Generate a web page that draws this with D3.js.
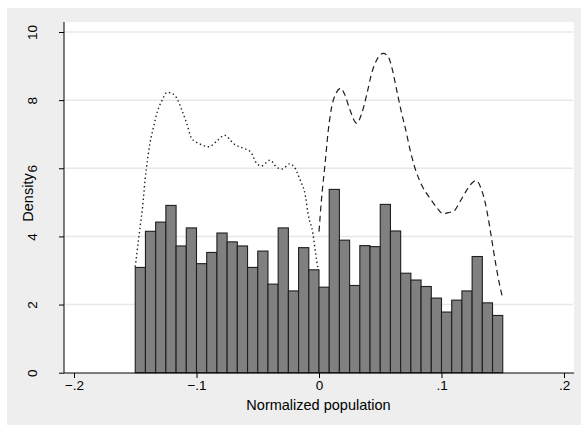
<!DOCTYPE html>
<html lang="en">
<head>
  <meta charset="UTF-8">
  <script src="https://cdn.jsdelivr.net/npm/d3@7"></script>
  <title>Histogram</title>
  <style>
    body { margin: 0; background: #fff; }
    svg { display: block; font-family: "Liberation Sans", Arial, sans-serif; }
  </style>
</head>
<body>
  <svg></svg>
</body>
<script>
const width = 581;
const height = 425;

// histogram: 36 bins from -.15 to .15
const binStart = -0.15;
const binEnd = 0.15;
const barHeights = [
  3.09, 4.15, 4.42, 4.91, 3.72, 4.25, 3.20, 3.53, 4.10, 3.84,
  3.72, 3.09, 3.57, 2.60, 4.25, 2.40, 3.67, 3.02, 2.51, 5.38,
  3.89, 2.56, 3.73, 3.70, 4.94, 4.16, 2.92, 2.72, 2.53, 2.19,
  1.78, 2.13, 2.40, 3.41, 2.05, 1.68
];

// density below zero (dotted)
const leftX = [
  -0.150, -0.148, -0.146, -0.144, -0.142, -0.140, -0.138, -0.135, -0.132, -0.128,
  -0.124, -0.120, -0.116, -0.112, -0.108, -0.104, -0.097, -0.090, -0.084, -0.077,
  -0.070, -0.062, -0.056, -0.051, -0.047, -0.040, -0.0345, -0.030, -0.024, -0.020,
  -0.0155, -0.011, -0.009, -0.005, -0.002, -0.0005
];
const leftY = [
  3.11, 3.70, 4.29, 4.87, 5.66, 6.24, 6.73, 7.22, 7.66, 8.00,
  8.23, 8.20, 8.05, 7.71, 7.32, 6.88, 6.71, 6.63, 6.78, 6.97,
  6.73, 6.59, 6.49, 6.15, 6.07, 6.24, 6.03, 5.98, 6.13, 6.03,
  5.66, 5.17, 4.68, 4.09, 3.31, 3.01
];

// density above zero (dashed)
const rightX = [
  0.000, 0.002, 0.005, 0.0076, 0.0104, 0.0139, 0.0177, 0.0212, 0.0253, 0.0308,
  0.0349, 0.0389, 0.0430, 0.0471, 0.0525, 0.0566, 0.0593, 0.0634, 0.0675, 0.0702,
  0.0743, 0.0784, 0.0838, 0.0906, 0.0961, 0.1015, 0.1056, 0.1096, 0.1151, 0.1206,
  0.1247, 0.1282, 0.1328, 0.1369, 0.1402, 0.1437, 0.1472, 0.1500
];
const rightY = [
  4.14, 5.07, 6.15, 7.12, 7.81, 8.20, 8.35, 8.15, 7.71, 7.32,
  7.61, 8.15, 8.79, 9.18, 9.37, 9.27, 8.98, 8.30, 7.61, 7.22,
  6.55, 6.00, 5.51, 5.12, 4.85, 4.66, 4.70, 4.73, 5.02, 5.36,
  5.56, 5.64, 5.36, 4.78, 4.09, 3.31, 2.62, 2.18
];

const xTicks = [-0.2, -0.1, 0, 0.1, 0.2];
const xTickLabels = ['\u2212.2', '\u2212.1', '0', '.1', '.2'];
const yTicks = [0, 2, 4, 6, 8, 10];
const yTickLabels = ['0', '2', '4', '6', '8', '10'];

// plot region
const plotLeft = 64;
const plotRight = 574;
const plotTop = 22;
const plotBottom = 373;

const svg = d3.select('svg').attr('width', width).attr('height', height);

svg.append('rect')
  .attr('x', 7).attr('y', 8)
  .attr('width', width - 7).attr('height', height - 8)
  .attr('fill', '#eeeeee');

svg.append('rect')
  .attr('x', plotLeft).attr('y', plotTop)
  .attr('width', plotRight - plotLeft).attr('height', plotBottom - plotTop)
  .attr('fill', '#ffffff');

const xScale = d3.scaleLinear().domain([-0.2, 0.2]).range([74, 564]);
const yScale = d3.scaleLinear().domain([0, 10]).range([372.7, 32]);

const gridLayer = svg.append('g');
const barLayer = svg.append('g');
const lineLayer = svg.append('g');
const axisLayer = svg.append('g');

// grid
gridLayer.selectAll('line')
  .data(yTicks.filter(d => d > 0))
  .enter()
  .append('line')
  .attr('x1', plotLeft + 1)
  .attr('x2', plotRight - 1)
  .attr('y1', d => yScale(d))
  .attr('y2', d => yScale(d))
  .attr('stroke', '#e8e8e8')
  .attr('stroke-width', 1.5);

// bars
const binWidth = (binEnd - binStart) / barHeights.length;
barLayer.selectAll('rect')
  .data(barHeights)
  .enter()
  .append('rect')
  .attr('x', (d, i) => xScale(binStart + i * binWidth))
  .attr('y', d => yScale(d))
  .attr('width', xScale(binWidth) - xScale(0))
  .attr('height', d => yScale(0) - yScale(d))
  .attr('fill', '#808080')
  .attr('stroke', '#1e1e1e')
  .attr('stroke-width', 1.1);

// density curves
const line = d3.line()
  .x(d => xScale(d[0]))
  .y(d => yScale(d[1]))
  .curve(d3.curveMonotoneX);

lineLayer.append('path')
  .datum(d3.zip(leftX, leftY))
  .attr('d', line)
  .attr('fill', 'none')
  .attr('stroke', '#1e1e1e')
  .attr('stroke-width', 1.4)
  .attr('stroke-dasharray', '1.4,2.8');

lineLayer.append('path')
  .datum(d3.zip(rightX, rightY))
  .attr('d', line)
  .attr('fill', 'none')
  .attr('stroke', '#1e1e1e')
  .attr('stroke-width', 1.2)
  .attr('stroke-dasharray', '6,4');

// axes
const xAxis = d3.axisBottom(xScale)
  .tickValues(xTicks)
  .tickFormat((d, i) => xTickLabels[i])
  .tickSize(5)
  .tickPadding(2);

const yAxis = d3.axisLeft(yScale)
  .tickValues(yTicks)
  .tickFormat((d, i) => yTickLabels[i])
  .tickSize(5);

const xAxisLayer = axisLayer.append('g')
  .attr('transform', `translate(0, ${plotBottom})`)
  .call(xAxis);
xAxisLayer.select('.domain').remove();
xAxisLayer.append('line')
  .attr('x1', plotLeft).attr('x2', plotRight)
  .attr('stroke', '#000');
xAxisLayer.selectAll('text')
  .attr('font-size', 13.5)
  .attr('font-family', '"Liberation Sans", Arial, sans-serif')
  .attr('fill', '#000');

const yAxisLayer = axisLayer.append('g')
  .attr('transform', `translate(${plotLeft}, 0)`)
  .call(yAxis);
yAxisLayer.select('.domain').remove();
yAxisLayer.append('line')
  .attr('y1', plotTop).attr('y2', plotBottom)
  .attr('stroke', '#000');
yAxisLayer.selectAll('text')
  .attr('font-size', 13.5)
  .attr('font-family', '"Liberation Sans", Arial, sans-serif')
  .attr('fill', '#000')
  .attr('x', null)
  .attr('dy', null)
  .attr('text-anchor', 'middle')
  .attr('transform', 'translate(-27, 0) rotate(-90)');

axisLayer.selectAll('.tick line').attr('stroke', '#000');

// axis titles
svg.append('text')
  .attr('x', (plotLeft + plotRight) / 2 - 0.5)
  .attr('y', 410)
  .attr('text-anchor', 'middle')
  .attr('font-size', 14.5)
  .text('Normalized population');

svg.append('text')
  .attr('transform', `translate(33, ${(plotTop + plotBottom) / 2}) rotate(-90)`)
  .attr('text-anchor', 'middle')
  .attr('font-size', 14.5)
  .text('Density');
</script>
</html>
